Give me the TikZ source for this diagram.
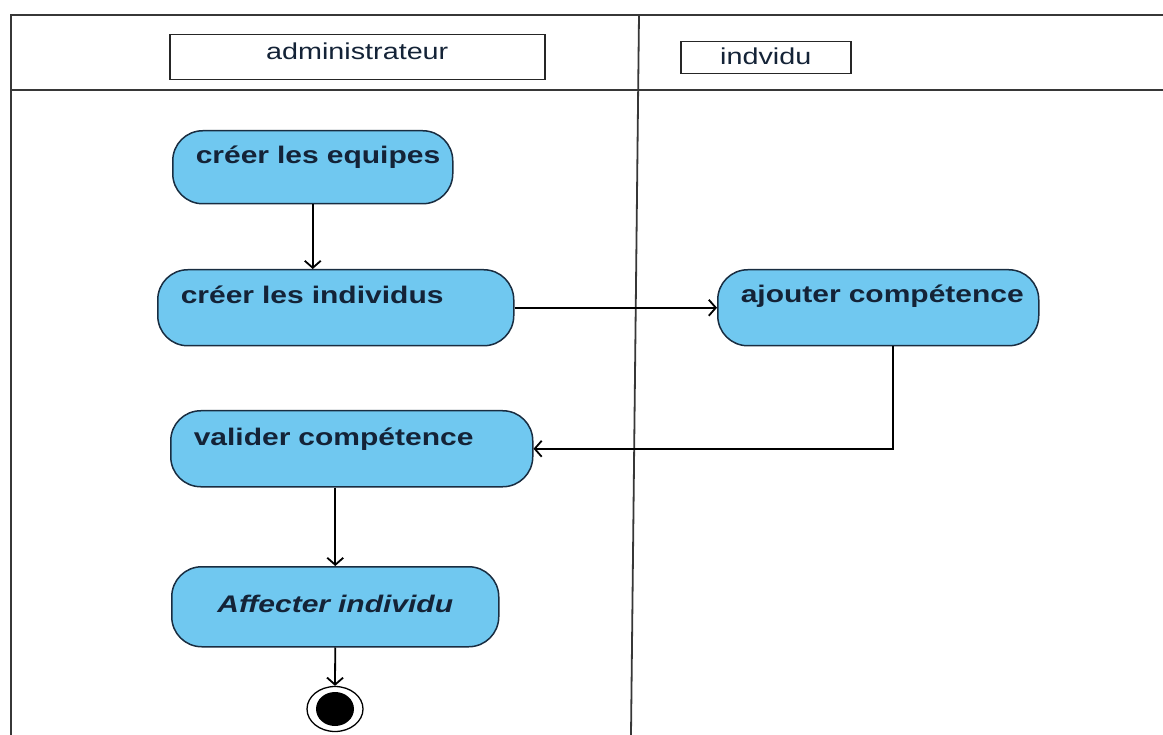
\documentclass[tikz,border=0pt]{standalone}
\usepackage{fontspec}
\setmainfont{Liberation Sans}
\newfontfamily\umlfont[FakeStretch=1.25]{Liberation Sans}
\usetikzlibrary{arrows.meta,positioning,shapes.geometric}
\definecolor{actfill}{RGB}{112,200,240}
\definecolor{actline}{RGB}{25,45,65}
\definecolor{acttext}{RGB}{20,35,55}
\definecolor{laneline}{RGB}{55,55,55}

\begin{document}
\begin{tikzpicture}[x=1pt, y=-1pt, line width=1.8pt, >={Straight Barb[length=7pt,width=16pt]},
    lane/.style={draw=laneline, line width=1.8pt},
    actor/.style={draw=black!85, line width=1.5pt, inner sep=0pt, anchor=north west, text=acttext,
      font=\umlfont\fontsize{23}{26}\selectfont},
    action/.style={draw=actline, fill=actfill, rounded corners=30pt, line width=1.5pt, inner xsep=8pt,
      inner ysep=0pt, align=left, anchor=north west, text=acttext, font=\umlfont\bfseries\fontsize{24}{28}\selectfont},
    indented/.style={execute at begin node={\hspace*{15pt}}},
    final/.style={ellipse, draw=black, fill=white, line width=1.3pt, minimum width=56pt, minimum height=45pt,
      inner sep=0pt, path picture={\fill[black] (path picture bounding box.center) ellipse (19pt and 17pt);}}]
  \useasboundingbox (0,0) rectangle (1163,735);
  % swimlanes
  \draw[lane] (11,735) -- (11,15) -- (1163,15);
  \draw[lane] (11,90) -- (1163,90);
  \draw[lane] (639,15) -- (631,735);
  % lane headers
  \node[actor, minimum width=375pt, minimum height=45pt, text height=25pt, text depth=20pt] (admin) at (169,34) {administrateur};
  \node[actor, minimum width=170pt, minimum height=32pt, text height=23pt, text depth=9pt] (indiv) at (680,41) {indvidu};
  % actions
  \node[action, indented, text width=264pt, text height=33pt, text depth=40pt] (equipes) at (172,130) {créer les equipes};
  \node[action, indented, text width=340pt, text height=34pt, text depth=42pt] (individus) at (157,269) {créer les individus};
  \node[action, indented, text width=305pt, text height=33pt, text depth=43pt] (ajouter) at (717,269) {ajouter compétence};
  \node[action, indented, text width=346pt, text height=35pt, text depth=41pt] (valider) at (170,410) {valider compétence};
  \node[action, text width=311pt, text height=46pt, text depth=34pt, align=center,
    font=\umlfont\bfseries\itshape\fontsize{24}{28}\selectfont] (affecter) at (171,566) {Affecter individu};
  \node[final] (fin) at (335,709) {};
  % flows
  \draw[->] (equipes.south) -- (equipes.south |- individus.north);
  \draw[->] (individus.east) -- (ajouter.west);
  \draw[->] ([xshift=15pt]ajouter.south) |- (valider.east);
  \draw[->] (affecter.north |- valider.south) -- (affecter.north);
  \draw[->] (affecter.south) -- (fin.north);
\end{tikzpicture}
\end{document}
